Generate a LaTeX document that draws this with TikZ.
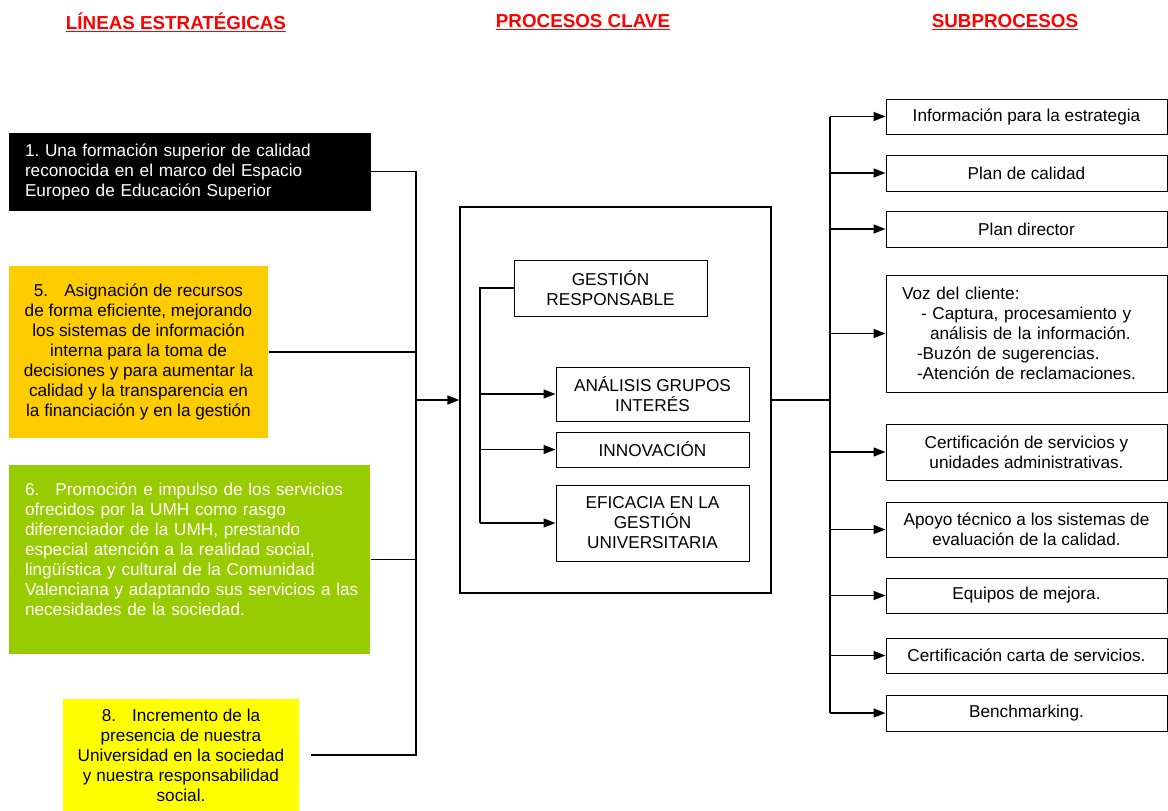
\documentclass[tikz,border=0pt]{standalone}
\usepackage{fontspec}
\setmainfont{Liberation Sans}
\usepackage{tikz}
\usetikzlibrary{arrows.meta}
\definecolor{naranja}{HTML}{FFCC00}
\definecolor{verde}{HTML}{99CC00}
\definecolor{amarillo}{HTML}{FFFF00}
\tikzset{caja/.style={shape=rectangle, draw=black, line width=1pt, inner sep=0pt, align=center},
    linea/.style={line width=1.6pt},
    flecha/.style={line width=1.6pt, -{Triangle[length=12pt,width=9pt]}},
    titulo/.style={text=red, font=\fontsize{18.8}{22}\selectfont\bfseries}}
\begin{document}
\frenchspacing
\begin{tikzpicture}[x=1pt, y=-1pt, font=\fontsize{17.2}{20}\selectfont]
\useasboundingbox (0,0) rectangle (1168,811);

\node[titulo] (T1) at (176,22) {\underline{LÍNEAS ESTRATÉGICAS}};
\node[titulo] (T2) at (583,22) {\underline{PROCESOS CLAVE}};
\node[titulo] (T3) at (1005,22) {\underline{SUBPROCESOS}};

% lineas estrategicas
\node[caja, fill=black, text=white, minimum width=361pt, minimum height=77pt, text width=329pt, align=left] (L1) at (189.5,171.5) {1. Una formación superior de calidad\\reconocida en el marco del Espacio\\Europeo de Educación Superior};
\node[caja, draw=none, fill=naranja, minimum width=259pt, minimum height=172pt] (L5) at (138.5,352) {5.\hspace{16pt}Asignación de recursos\\de forma eficiente, mejorando\\los sistemas de información\\interna para la toma de\\decisiones y para aumentar la\\calidad y la transparencia en\\la financiación y en la gestión};
\node[caja, draw=none, fill=verde, text=white, minimum width=361pt, minimum height=189pt, text width=329pt, align=left] (L6) at (189.5,559.5) {6.\hspace{16pt}Promoción e impulso de los servicios\\ofrecidos por la UMH como rasgo\\diferenciador de la UMH, prestando\\especial atención a la realidad social,\\lingüística y cultural de la Comunidad\\\mbox{Valenciana y adaptando sus servicios a las}\\necesidades de la sociedad.\\\mbox{}};
\node[caja, draw=none, fill=amarillo, minimum width=236pt, minimum height=112pt] (L8) at (181,755) {8.\hspace{16pt}Incremento de la\\presencia de nuestra\\Universidad en la sociedad\\y nuestra responsabilidad\\social.};

% procesos clave
\node[caja, line width=1.2pt, minimum width=311pt, minimum height=386pt] (PC) at (615.5,400) {};
\node[caja, minimum width=193pt, minimum height=56pt] (GR) at (610.5,288) {GESTIÓN\\RESPONSABLE};
\node[caja, minimum width=193pt, minimum height=54pt] (GA) at (652.5,394) {ANÁLISIS GRUPOS\\INTERÉS};
\node[caja, minimum width=193pt, minimum height=35pt] (IN) at (652.5,449.5) {INNOVACIÓN};
\node[caja, minimum width=193pt, minimum height=76pt] (EF) at (652.5,523) {EFICACIA EN LA\\GESTIÓN\\UNIVERSITARIA};

% subprocesos
\node[caja, minimum width=281pt, minimum height=35pt] (S1) at (1026.5,116.5) {Información para la estrategia};
\node[caja, minimum width=281pt, minimum height=36pt] (S2) at (1026.5,173) {Plan de calidad};
\node[caja, minimum width=281pt, minimum height=36pt] (S3) at (1026.5,229) {Plan director};
\node[caja, minimum width=281pt, minimum height=117pt, text width=249pt, align=left] (S4) at (1026.5,333.5) {Voz del cliente:\\\hspace*{19pt}- Captura, procesamiento y\\\hspace*{28pt}análisis de la información.\\\hspace*{15pt}-Buzón de sugerencias.\\\hspace*{15pt}-Atención de reclamaciones.};
\node[caja, minimum width=281pt, minimum height=56pt] (S5) at (1026.5,452) {Certificación de servicios y\\unidades administrativas.};
\node[caja, minimum width=281pt, minimum height=55pt] (S6) at (1026.5,529.5) {Apoyo técnico a los sistemas de\\evaluación de la calidad.};
\node[caja, minimum width=281pt, minimum height=35pt] (S7) at (1026.5,595.5) {Equipos de mejora.};
\node[caja, minimum width=281pt, minimum height=35pt] (S8) at (1026.5,655.5) {Certificación carta de servicios.};
\node[caja, minimum width=281pt, minimum height=36pt] (S9) at (1026.5,713) {Benchmarking.};

\coordinate (lt) at (416,400);
\coordinate (L8end) at ([xshift=11pt]L8.east);
\coordinate (gt) at (480,288);
\coordinate (rt) at (830,400);

\draw[linea] (L1.east) -- (lt |- L1.east) -- (lt |- L8end) -- (L8end);
\draw[linea] (L5.east) -- (lt |- L5.east);
\draw[linea] (L6.east) -- (lt |- L6.east);
\draw[flecha] (lt) -- (PC.west);

\draw[linea] (GR.west) -- (gt) -- (gt |- EF.west);
\draw[flecha] (gt |- GA.west) -- (GA.west);
\draw[flecha] (gt |- IN.west) -- (IN.west);
\draw[flecha] (gt |- EF.west) -- (EF.west);

\draw[linea] (PC.east) -- (rt);
\draw[linea] (rt |- S1.west) -- (rt |- S9.west);
\draw[flecha] (rt |- S1.west) -- (S1.west);
\draw[flecha] (rt |- S2.west) -- (S2.west);
\draw[flecha] (rt |- S3.west) -- (S3.west);
\draw[flecha] (rt |- S4.west) -- (S4.west);
\draw[flecha] (rt |- S5.west) -- (S5.west);
\draw[flecha] (rt |- S6.west) -- (S6.west);
\draw[flecha] (rt |- S7.west) -- (S7.west);
\draw[flecha] (rt |- S8.west) -- (S8.west);
\draw[flecha] (rt |- S9.west) -- (S9.west);

\end{tikzpicture}
\end{document}
